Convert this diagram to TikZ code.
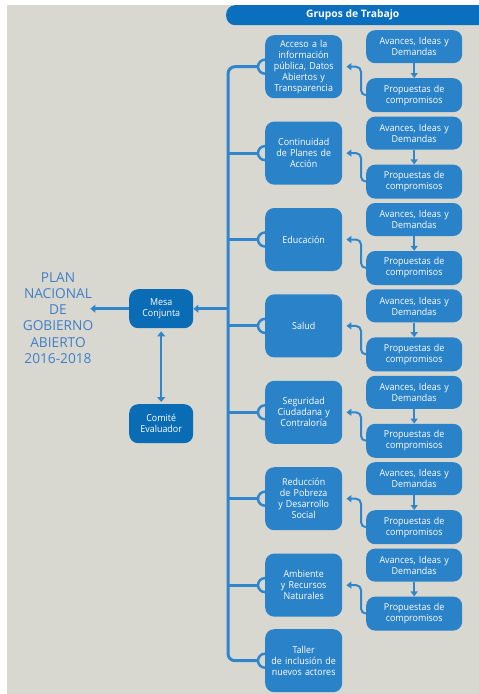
\documentclass[tikz,border=0pt]{standalone}
\usepackage{fontspec}
\setmainfont{Open Sans}
\newfontfamily\boxfont[FakeStretch=0.93]{Open Sans}
\usetikzlibrary{arrows.meta,calc,backgrounds}
\definecolor{bg}{HTML}{D9D8D0}
\definecolor{boxblue}{HTML}{2A82C8}
\definecolor{darkblue}{HTML}{0A6CB5}
\definecolor{hdrblue}{HTML}{0A6FBE}
\definecolor{lineblue}{HTML}{2F86CC}
\definecolor{plantext}{HTML}{3F7FC8}
\tikzset{
  boxbase/.style={rounded corners=9pt, align=center, text=white, inner sep=0pt,
    font=\boxfont\fontsize{9.6}{11}\selectfont, anchor=north west},
  topic/.style={boxbase, fill=boxblue, minimum width=77pt, minimum height=63pt, text width=75pt},
  avbox/.style={boxbase, fill=boxblue, minimum width=96pt, minimum height=33pt, text width=94pt},
  prbox/.style={boxbase, fill=boxblue, minimum width=96pt, minimum height=34pt, text width=94pt},
  mesabox/.style={boxbase, fill=darkblue, minimum width=64pt, minimum height=39pt, text width=62pt},
  conn/.style={draw=lineblue, line width=3pt},
  thinarr/.style={draw=lineblue, line width=2pt, -{Triangle[length=5pt,width=7pt]}},
  medarr/.style={draw=lineblue, line width=2.5pt, -{Triangle[length=5pt,width=8pt]}},
  ringcap/.style={draw=lineblue, line width=2.5pt, fill=bg},
}
\begin{document}
\begin{tikzpicture}[x=1pt,y=-1pt]
\useasboundingbox (0,0) rectangle (479,694);
% header
\node[fill=hdrblue, rounded corners=9pt, minimum width=270pt, minimum height=20pt,
  anchor=north west, inner sep=0pt, text=white, font=\fontsize{10.3}{12}\selectfont\bfseries]
  (hdr) at (226,5) {\hspace*{-17pt}Grupos de Trabajo};
% topics
\node[topic] (t1) at (265,35) {Acceso a la\\información\\pública, Datos\\Abiertos y\\Transparencia};
\node[topic] (t2) at (265,121.4) {Continuidad\\de Planes de\\Acción};
\node[topic] (t3) at (265,207.8) {Educación};
\node[topic] (t4) at (265,294.2) {Salud};
\node[topic] (t5) at (265,380.6) {Seguridad\\Ciudadana y\\Contraloría};
\node[topic] (t6) at (265,467) {Reducción\\de Pobreza\\y Desarrollo\\Social};
\node[topic] (t7) at (265,553.4) {Ambiente\\y Recursos\\Naturales};
\node[topic] (t8) at (265,629) {Taller\\de inclusión de\\nuevos actores};
% right boxes
\foreach \i/\t in {1/35,2/121.4,3/207.8,4/294.2,5/380.6,6/467,7/553.4}{
  \node[avbox] (a\i) at (366,\t-5) {Avances, Ideas y\\Demandas};
  \node[prbox] (p\i) at (366,\t+43) {Propuestas de\\compromisos};
}
% mesa, comite, plan
\node[mesabox] (mesa) at (129,289) {Mesa\\Conjunta};
\node[mesabox] (comite) at (129,404) {Comité\\Evaluador};
\node[text=plantext, align=center, inner sep=0pt, font=\fontsize{13.7}{16.3}\selectfont]
  (plan) at (58,318) {PLAN\\NACIONAL\\DE\\GOBIERNO\\ABIERTO\\2016-2018};
\coordinate (trunk) at (228,64);
\begin{pgfonlayer}{background}
  \fill[white] (0,0) rectangle (479,694);
  \fill[bg] (7,5) rectangle (479,694);
  \draw[conn, rounded corners=7pt] ([xshift=-7pt]t1.west) -| (trunk |- t8.west) -- ([xshift=-7pt]t8.west);
  \foreach \i in {2,...,7}{
    \draw[conn] (trunk |- t\i.west) -- (t\i.west);
  }
  \foreach \i in {1,...,8}{
    \draw[ringcap] (t\i.west) circle[radius=7pt];
  }
  \foreach \i in {1,...,7}{
    \draw[thinarr] (a\i.south) -- (p\i.north);
    \draw[thinarr, rounded corners=5pt] (p\i.west) -| ([xshift=-5pt]p\i.west |- t\i.east) -- ([xshift=4pt]t\i.east);
  }
  \draw[medarr] (trunk |- mesa.east) -- (mesa.east);
  \draw[medarr] (mesa.west) -- ([xshift=-3pt]plan.east |- mesa.west);
  \draw[medarr, {Triangle[length=5pt,width=8pt]}-{Triangle[length=5pt,width=8pt]}, shorten <=3pt, shorten >=2pt] (mesa.south) -- (comite.north);
\end{pgfonlayer}
\end{tikzpicture}
\end{document}
